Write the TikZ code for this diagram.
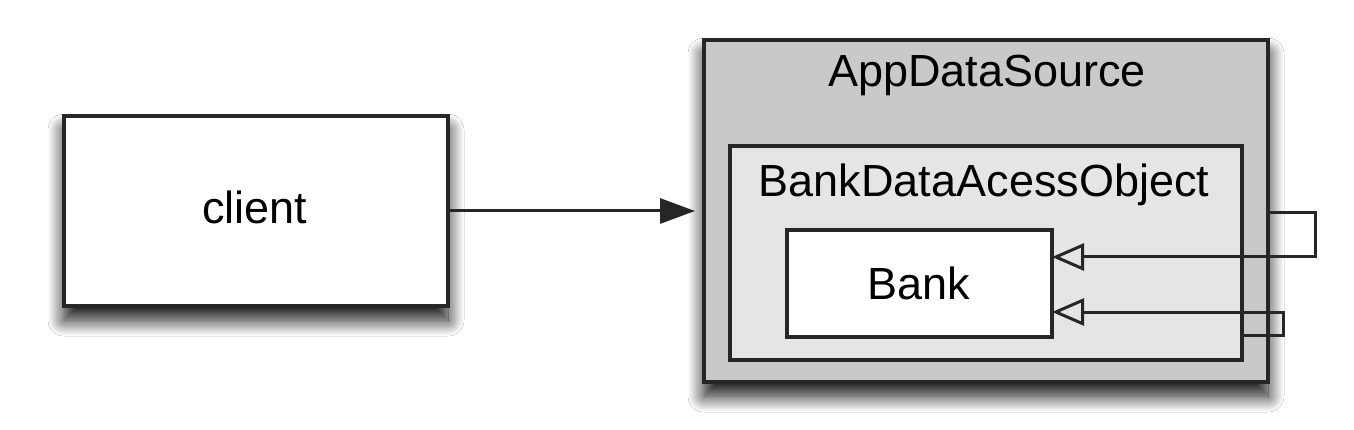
\documentclass[tikz,border=0pt]{standalone}
\usepackage{fontspec}
\setmainfont{Liberation Sans}
\usetikzlibrary{arrows.meta,shadows.blur}
\begin{document}
\begin{tikzpicture}[x=1pt,y=-1pt,
  box/.style={draw=black!85, line width=3.2pt, rectangle, inner sep=0pt, outer sep=0pt},
  shad/.style={blur shadow={shadow xshift=0pt, shadow yshift=-14pt, shadow blur radius=16pt, shadow blur steps=20, shadow opacity=95}},
  lbl/.style={font=\fontsize{45}{54}\selectfont, inner sep=0pt, anchor=base},
  conn/.style={draw=black!85, line width=3pt},
  openarr/.style={-{Triangle[open, length=32pt, width=27pt, line width=3pt]}},
  fillarr/.style={-{Triangle[length=35pt, width=25pt]}}
]
\useasboundingbox (0,0) rectangle (1354,430);
\fill[white] (0,0) rectangle (1354,430);
\node[box, shad, fill=white, minimum width=384pt, minimum height=190pt] (client) at (256,211) {};
\node[box, shad, fill=black!21, minimum width=564pt, minimum height=342pt] (outer) at (986,211) {};
\node[box, fill=black!10, minimum width=512pt, minimum height=214pt] (inner) at (986,253) {};
\node[box, fill=white, minimum width=265pt, minimum height=107pt] (bank) at (919.5,283.5) {};
\node[lbl] (tclient) at (255,224) {client};
\node[lbl] (tapp) at (987,87) {AppDataSource};
\node[lbl] (tbdao) at (984,197) {BankDataAcessObject};
\node[lbl] (tbank) at (919,299) {Bank};
\coordinate (c1) at (1268,213);
\coordinate (c2) at (1315,213);
\coordinate (c3) at (1315,257);
\coordinate (b1) at (1052,257);
\coordinate (d1) at (1242,335);
\coordinate (d2) at (1283,335);
\coordinate (d3) at (1283,312);
\coordinate (b2) at (1052,312);
\draw[conn, fillarr, shorten >=9pt] (client.east) -- (outer.west);
\draw[conn, openarr] (c1) -- (c2) -- (c3) -- (b1);
\draw[conn, openarr] (d1) -- (d2) -- (d3) -- (b2);
\end{tikzpicture}
\end{document}
